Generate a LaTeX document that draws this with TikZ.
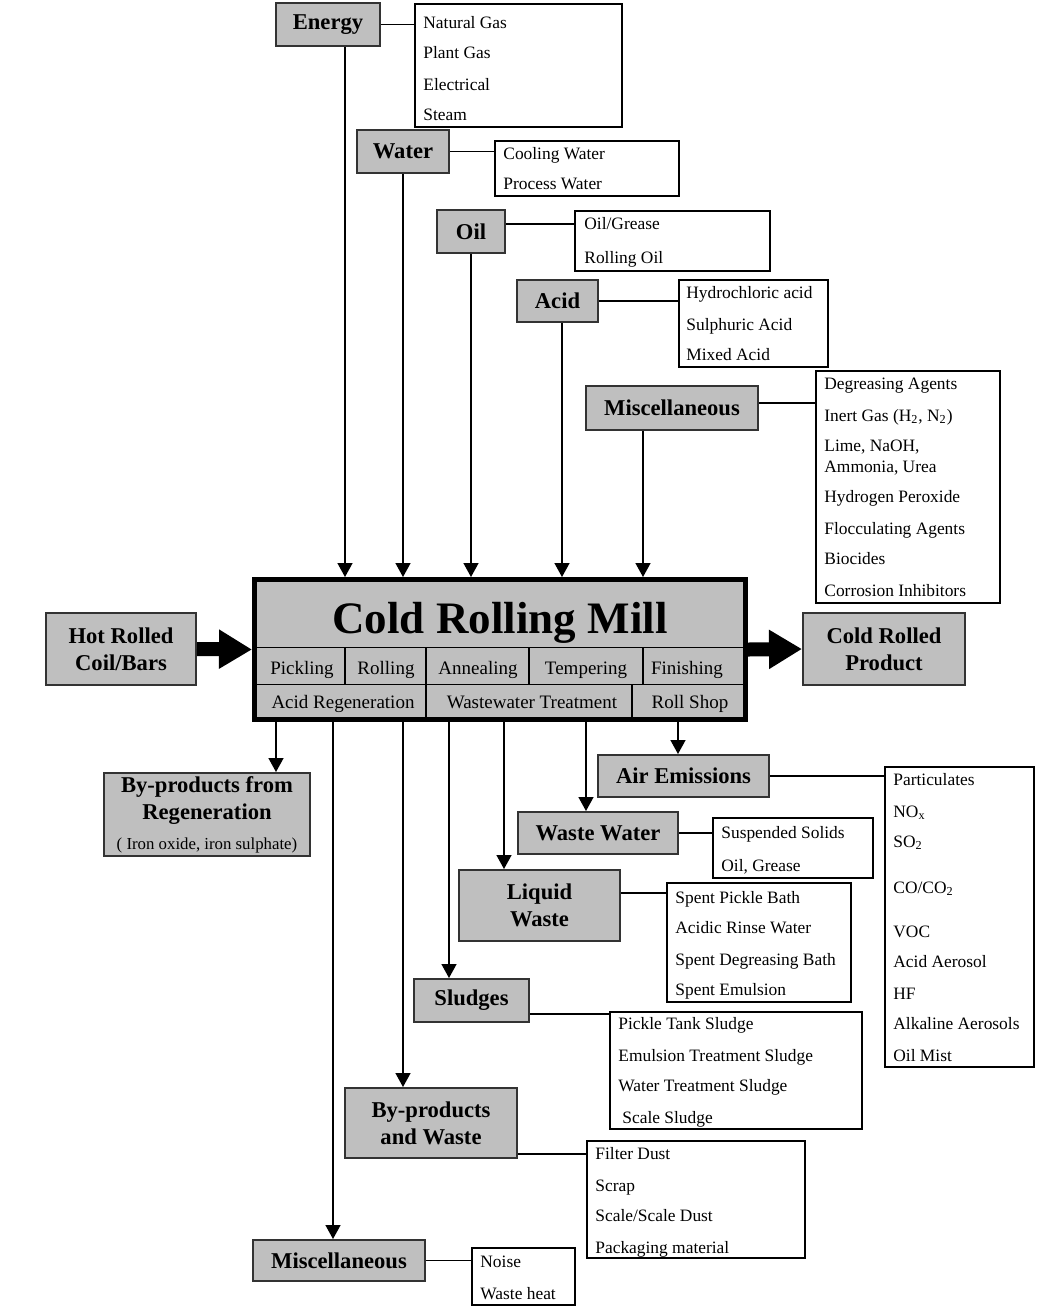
\documentclass[tikz,border=0pt]{standalone}
\usepackage{fontspec}
\setmainfont{Liberation Serif}
\usetikzlibrary{arrows.meta}
\tikzset{
  catbox/.style={draw=black!80,fill=black!25,line width=1pt,inner sep=0pt,align=center,
    font=\fontsize{11.3}{13.5}\selectfont\bfseries},
  listbox/.style={draw,line width=.75pt,anchor=north west,inner sep=0pt},
  entry/.style={anchor=base west,inner sep=0pt,font=\fontsize{8.7}{10.5}\selectfont},
  cell/.style={anchor=base,inner sep=0pt,font=\fontsize{9.5}{11}\selectfont},
  link/.style={line width=.75pt},
  feed/.style={line width=.75pt,-{Triangle[length=7pt,width=7.5pt]}},
  bigarrow/.style={line width=7pt,-{Triangle[length=16.5pt,width=18.5pt]}},
}
\begin{document}
\begin{tikzpicture}[x=.5pt,y=-.5pt]
\useasboundingbox (0,0) rectangle (1054,1314);
% mill
\node[draw,line width=2.5pt,fill=black!25,minimum width=245.5pt,minimum height=70pt] (mill) at (500,649.5) {};
\draw[line width=.75pt] (254.5,647.5) -- (745.5,647.5) (254.5,684.5) -- (745.5,684.5);
\foreach \x in {345,426,529,643} \draw[line width=.75pt] (\x,647.5) -- (\x,684.5);
\foreach \x in {426,632} \draw[line width=.75pt] (\x,684.5) -- (\x,719.5);
\node[anchor=base,inner sep=0pt,font=\fontsize{22.5}{26}\selectfont\bfseries] (title) at (500,633) {Cold Rolling Mill};
\foreach \x/\t in {302/Pickling,386/Rolling,478/Annealing,586/Tempering,687/Finishing}
  \node[cell] (c1-\x) at (\x,674) {\t};
\foreach \x/\t in {343/Acid Regeneration,532/Wastewater Treatment,690/Roll Shop}
  \node[cell] (c2-\x) at (\x,708) {\t};
% inputs
\node[catbox,minimum width=52pt,minimum height=21.5pt] (energy) at (328,24.5) {Energy};
\node[catbox,minimum width=46pt,minimum height=21.5pt] (water) at (403,151.5) {Water};
\node[catbox,minimum width=34pt,minimum height=21.5pt] (oil) at (471,231.5) {Oil};
\node[catbox,minimum width=40.5pt,minimum height=21pt] (acid) at (557.5,301) {Acid};
\node[catbox,minimum width=86pt,minimum height=22pt] (misct) at (672,408) {Miscellaneous};
\node[catbox,minimum width=75pt,minimum height=36pt] (hot) at (121,649) {Hot Rolled\\Coil/Bars};
\node[catbox,minimum width=81pt,minimum height=36pt] (product) at (884,649) {Cold Rolled\\Product};
% outputs
\node[catbox,minimum width=103pt,minimum height=41.5pt] (bpreg) at (207,814.5)
  {By-products from\\Regeneration\\[1.5pt]{\mdseries\fontsize{8.4}{10}\selectfont ( Iron oxide, iron sulphate)}};
\node[catbox,minimum width=85.5pt,minimum height=21pt] (air) at (683.5,776) {Air Emissions};
\node[catbox,minimum width=80pt,minimum height=21pt] (ww) at (598,833) {Waste Water};
\node[catbox,minimum width=80.5pt,minimum height=35.5pt] (liquid) at (539.5,905.5) {Liquid\\Waste};
\node[catbox,minimum width=57.5pt,minimum height=21.5pt] (sludge) at (471.5,1000.5) {Sludges};
\node[catbox,minimum width=86pt,minimum height=35pt] (bpw) at (431,1123) {By-products\\and Waste};
\node[catbox,minimum width=86pt,minimum height=20.5pt] (miscb) at (339,1260.5) {Miscellaneous};
% lists
\node[listbox,minimum width=103.5pt,minimum height=61.5pt] (enlist) at (414,3) {};
\node[listbox,minimum width=92pt,minimum height=27.5pt] (walist) at (494,140) {};
\node[listbox,minimum width=97.5pt,minimum height=30pt] (oillist) at (574,210) {};
\node[listbox,minimum width=74.5pt,minimum height=43.5pt] (acidlist) at (678,279) {};
\node[listbox,minimum width=92pt,minimum height=116pt] (misctlist) at (815,370) {};
\node[listbox,minimum width=74.5pt,minimum height=150pt] (airlist) at (884,766) {};
\node[listbox,minimum width=80pt,minimum height=30pt] (wwlist) at (712,817) {};
\node[listbox,minimum width=92pt,minimum height=59.5pt] (liqlist) at (666,882) {};
\node[listbox,minimum width=126pt,minimum height=58.5pt] (sludgelist) at (609,1011) {};
\node[listbox,minimum width=109pt,minimum height=58.5pt] (bpwlist) at (586,1140) {};
\node[listbox,minimum width=51.5pt,minimum height=28.5pt] (miscblist) at (471,1247) {};
\foreach \y/\t in {28/Natural Gas,58/Plant Gas,90/Electrical,120/Steam}
  \node[entry] (en-\y) at (423,\y) {\t};
\foreach \y/\t in {159/Cooling Water,189/Process Water}
  \node[entry] (wa-\y) at (503,\y) {\t};
\foreach \y/\t in {229/{Oil/Grease},263/Rolling Oil}
  \node[entry] (oi-\y) at (584,\y) {\t};
\foreach \y/\t in {298/Hydrochloric acid,330/Sulphuric Acid,360/Mixed Acid}
  \node[entry] (ac-\y) at (686,\y) {\t};
\foreach \y/\t in {389/Degreasing Agents,421/{Inert Gas (H\textsubscript{2}, N\textsubscript{2})},451/{Lime, NaOH,},
  472/{Ammonia, Urea},502/Hydrogen Peroxide,534/Flocculating Agents,564/Biocides,596/Corrosion Inhibitors}
  \node[entry] (mt-\y) at (824,\y) {\t};
\foreach \y/\t in {785/Particulates,817/NO\textsubscript{x},847/SO\textsubscript{2},893/{CO/CO\textsubscript{2}},
  937/VOC,967/Acid Aerosol,999/HF,1029/Alkaline Aerosols,1061/Oil Mist}
  \node[entry] (ai-\y) at (893,\y) {\t};
\foreach \y/\t in {838/Suspended Solids,871/{Oil, Grease}}
  \node[entry] (ww-\y) at (721,\y) {\t};
\foreach \y/\t in {903/Spent Pickle Bath,933/Acidic Rinse Water,965/Spent Degreasing Bath,995/Spent Emulsion}
  \node[entry] (lq-\y) at (675,\y) {\t};
\foreach \y/\t in {1029/Pickle Tank Sludge,1061/Emulsion Treatment Sludge,1091/Water Treatment Sludge}
  \node[entry] (sl-\y) at (618,\y) {\t};
\node[entry] (sl-1123) at (622,1123) {Scale Sludge};
\foreach \y/\t in {1159/Filter Dust,1191/Scrap,1221/{Scale/Scale Dust},1253/Packaging material}
  \node[entry] (bw-\y) at (595,\y) {\t};
\foreach \y/\t in {1267/Noise,1299/Waste heat}
  \node[entry] (mb-\y) at (480,\y) {\t};
% links to lists
\coordinate (oilout) at ([yshift=3.75pt]oil.east);
\coordinate (mtout) at ([yshift=2.5pt]misct.east);
\coordinate (lqout) at ([yshift=6.25pt]liquid.east);
\coordinate (slout) at ([yshift=-6.75pt]sludge.east);
\coordinate (bwout) at ([yshift=-15.5pt]bpw.east);
\draw[link] (energy.east) -- (energy.east -| enlist.west);
\draw[link] (water.east) -- (water.east -| walist.west);
\draw[link] (oilout) -- (oilout -| oillist.west);
\draw[link] (acid.east) -- (acid.east -| acidlist.west);
\draw[link] (mtout) -- (mtout -| misctlist.west);
\draw[link] (air.east) -- (air.east -| airlist.west);
\draw[link] (ww.east) -- (ww.east -| wwlist.west);
\draw[link] (lqout) -- (lqout -| liqlist.west);
\draw[link] (slout) -- (slout -| sludgelist.west);
\draw[link] (bwout) -- (bwout -| bpwlist.west);
\draw[link] (miscb.east) -- (miscb.east -| miscblist.west);
% feeds into the mill
\coordinate (enin) at ([xshift=8.5pt]energy.south);
\coordinate (acin) at ([xshift=2.25pt]acid.south);
\coordinate (mtin) at ([xshift=-14.5pt]misct.south);
\draw[feed] (enin) -- (enin |- mill.north);
\draw[feed] (water.south) -- (water.south |- mill.north);
\draw[feed] (oil.south) -- (oil.south |- mill.north);
\draw[feed] (acin) -- (acin |- mill.north);
\draw[feed] (mtin) -- (mtin |- mill.north);
\draw[bigarrow] (hot.east) -- (mill.west);
\draw[bigarrow] (mill.east) -- (product.west);
% out of the mill
\coordinate (regin) at ([xshift=34.5pt]bpreg.north);
\coordinate (mbin) at ([xshift=-3pt]miscb.north);
\coordinate (bwin) at ([xshift=-14pt]bpw.north);
\coordinate (slin) at ([xshift=-11.25pt]sludge.north);
\coordinate (lqin) at ([xshift=-17.75pt]liquid.north);
\coordinate (wwin) at ([xshift=-6pt]ww.north);
\coordinate (aiin) at ([xshift=-2.75pt]air.north);
\foreach \c in {regin,mbin,bwin,slin,lqin,wwin,aiin}
  \draw[feed] (\c |- mill.south) -- (\c);
\end{tikzpicture}
\end{document}
